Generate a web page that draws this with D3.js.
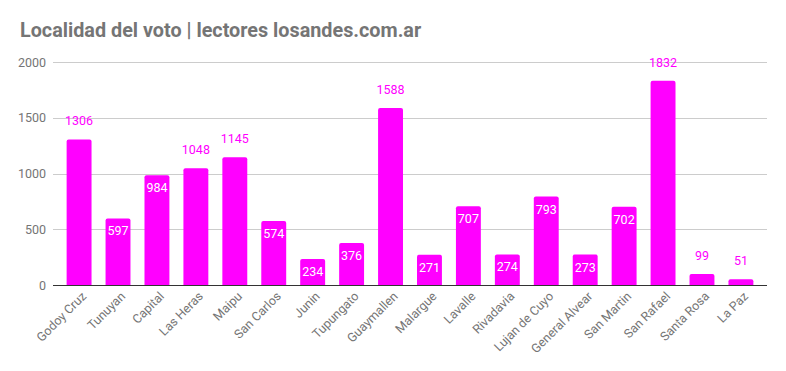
<!DOCTYPE html>
<html>
<head>
<meta charset="utf-8">
<script src="https://cdn.jsdelivr.net/npm/d3@7"></script>
<style>
body{margin:0;background:#fff}
svg{font-family:Roboto,"Noto Sans",sans-serif}
</style>
</head>
<body>
<svg id="chart" width="786" height="371"></svg>
<script>
var localidades = ["Godoy Cruz","Tunuyan","Capital","Las Heras","Maipu","San Carlos","Junin","Tupungato","Guaymallen","Malargue","Lavalle","Rivadavia","Lujan de Cuyo","General Alvear","San Martin","San Rafael","Santa Rosa","La Paz"]
var votos = [1306,597,984,1048,1145,574,234,376,1588,271,707,274,793,273,702,1832,99,51]
var yTicks = [0,500,1000,1500,2000]

var svg = d3.select("#chart")
var plotLeft = 53, plotRight = 767, plotTop = 62, plotBottom = 285
var magenta = "#ff00ff"

svg.append("text").text("Localidad del voto | lectores losandes.com.ar")
    .attr("x",20).attr("y",37)
    .attr("font-size",19.8).attr("font-weight","bold").attr("fill","#757575")

var x = d3.scaleBand().domain(localidades).range([plotLeft,plotRight]).paddingInner(0.36).paddingOuter(0.35)
var y = d3.scaleLinear().domain([0,2000]).range([plotBottom,plotTop])

// gridlines
svg.selectAll(".grid").data(yTicks).enter().append("line")
    .attr("x1",plotLeft).attr("x2",plotRight)
    .attr("y1",function(d){return Math.round(y(d))+0.5}).attr("y2",function(d){return Math.round(y(d))+0.5})
    .attr("stroke","#cccccc")
svg.selectAll(".ylab").data(yTicks).enter().append("text")
    .text(function(d){return d})
    .attr("x",46).attr("y",function(d){return y(d)+4.5})
    .attr("text-anchor","end").attr("font-size",12.5).attr("fill","#757575")

function barPath(d){
    var x0 = x(d.k), w = x.bandwidth(), y0 = y(d.v), h = plotBottom - y0, r = Math.min(2, h)
    return "M"+x0+","+plotBottom+"V"+(y0+r)+"Q"+x0+","+y0+" "+(x0+r)+","+y0+
        "H"+(x0+w-r)+"Q"+(x0+w)+","+y0+" "+(x0+w)+","+(y0+r)+"V"+plotBottom+"Z"
}
var rows = localidades.map(function(k,i){return {k:k,v:votos[i]}})
svg.selectAll(".bar").data(rows).enter().append("path")
    .attr("d",barPath).attr("fill",magenta)

function inside(d){
    return d.v<1000 && (plotBottom-y(d.v))>20
}
// value labels
svg.selectAll(".val").data(rows).enter().append("text")
    .text(function(d){return d.v})
    .attr("x",function(d){return x(d.k)+x.bandwidth()/2})
    .attr("y",function(d){
        return inside(d) ? y(d.v)+17 : y(d.v)-14
    })
    .attr("text-anchor","middle").attr("font-size",12.5)
    .attr("fill",function(d){
        return inside(d) ? "#ffffff" : magenta
    })

// baseline
svg.append("line").attr("x1",plotLeft).attr("x2",plotRight)
    .attr("y1",plotBottom+0.5).attr("y2",plotBottom+0.5).attr("stroke","#333333")

// x labels
svg.selectAll(".xlab").data(localidades).enter().append("text")
    .text(function(d){return d})
    .attr("text-anchor","end").attr("font-size",12.5).attr("fill","#757575")
    .attr("transform",function(d){
        return "translate("+(x(d)+x.bandwidth()/2+8)+",297) rotate(-45)"
    })
</script>
</body>
</html>
